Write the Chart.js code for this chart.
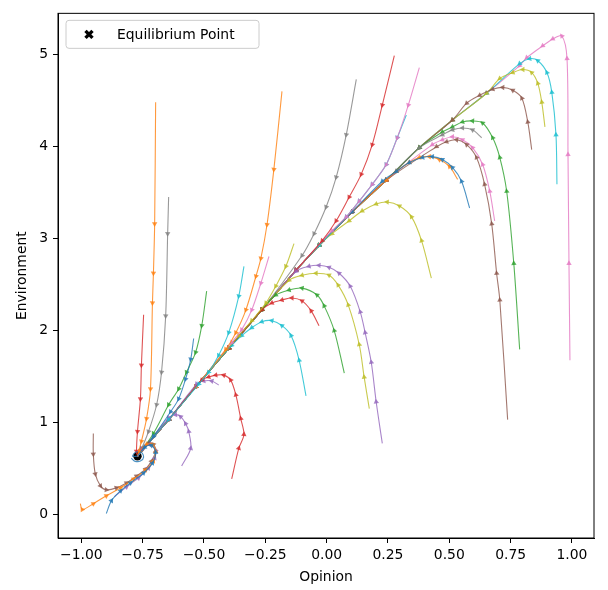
<!DOCTYPE html>
<html>
<head>
<meta charset="utf-8">
<script src="https://cdn.jsdelivr.net/npm/chart.js@4.4.1/dist/chart.umd.min.js"></script>
<style>
  body { margin: 0; background: #fff; }
</style>
</head>
<body>
<canvas id="phase" width="608" height="590"></canvas>
<script>
// tick positions
const xTicks = [-1, -0.75, -0.5, -0.25, 0, 0.25, 0.5, 0.75, 1];
const yTicks = [0, 1, 2, 3, 4, 5];

const equilibrium = [-0.771, 0.634];

// shared slow manifold that every trajectory rides down to the equilibrium
const spine = [[0.787,4.882],[0.652,4.581],[0.513,4.290],[0.378,3.989],[0.243,3.634],[0.104,3.290],
  [-0.031,2.925],[-0.125,2.656],[-0.264,2.226],[-0.399,1.806],[-0.534,1.387],[-0.644,1.032],[-0.771,0.634]];

// trajectory heads (opinion, environment) before they reach the manifold
const pinkFar = [[0.992,1.677],[0.988,2.731],[0.984,3.914],[0.980,4.957],[0.959,5.204],[0.922,5.172],[0.881,5.097],[0.816,4.968]];
const cyanFar = [[0.939,3.591],[0.935,4.129],[0.918,4.591],[0.898,4.806],[0.861,4.935],[0.828,4.957],[0.787,4.903]];
const oliveFar = [[0.890,4.215],[0.877,4.484],[0.861,4.688],[0.836,4.806],[0.800,4.839],[0.759,4.806],[0.706,4.742]];
const brownFar = [[0.836,3.968],[0.820,4.269],[0.796,4.527],[0.759,4.613],[0.718,4.645],[0.677,4.624],[0.624,4.559],[0.571,4.473]];
const greenFar = [[0.787,1.796],[0.763,2.731],[0.734,3.516],[0.706,3.882],[0.677,4.097],[0.636,4.258],[0.595,4.280],[0.554,4.269],[0.513,4.215],[0.472,4.161]];
const grayShort = [[0.632,4.097],[0.595,4.183],[0.554,4.204],[0.513,4.183],[0.472,4.129]];
const pinkMid = [[0.685,3.194],[0.665,3.516],[0.636,3.806],[0.595,3.989],[0.554,4.075],[0.513,4.108],[0.472,4.075],[0.431,4.022]];
const brownMid = [[0.738,1.032],[0.706,2.333],[0.693,2.624],[0.673,3.161],[0.644,3.591],[0.611,3.882],[0.571,4.022],[0.530,4.075],[0.489,4.054],[0.448,4.000]];
const blueArc = [[0.583,3.333],[0.550,3.624],[0.513,3.774],[0.472,3.860],[0.431,3.892],[0.391,3.882],[0.337,3.828],[0.284,3.731],[0.227,3.624]];
const orangeArc = [[0.534,3.645],[0.501,3.785],[0.460,3.860],[0.419,3.892],[0.378,3.882],[0.337,3.828],[0.284,3.731]];
const oliveMid = [[0.427,2.570],[0.387,2.978],[0.346,3.237],[0.297,3.355],[0.247,3.398],[0.202,3.376],[0.145,3.301],[0.092,3.194],[0.022,3.054]];
const purpleMid = [[0.227,0.774],[0.202,1.226],[0.182,1.656],[0.157,1.978],[0.137,2.204],[0.096,2.484],[0.051,2.624],[0.010,2.688],[-0.031,2.710],[-0.072,2.699],[-0.125,2.645]];
const oliveLow = [[0.174,1.151],[0.153,1.495],[0.133,1.849],[0.088,2.280],[0.047,2.495],[0.010,2.602],[-0.043,2.624],[-0.100,2.602],[-0.153,2.548]];
const greenMid = [[0.072,1.538],[0.031,2.000],[-0.010,2.269],[-0.039,2.387],[-0.100,2.462],[-0.153,2.441],[-0.207,2.387]];
const redMid = [[-0.031,2.054],[-0.063,2.215],[-0.100,2.323],[-0.141,2.355],[-0.182,2.333],[-0.223,2.301]];
const cyanMid = [[-0.084,1.290],[-0.112,1.677],[-0.145,1.946],[-0.182,2.054],[-0.223,2.108],[-0.264,2.097],[-0.305,2.032],[-0.346,1.946],[-0.387,1.839]];
const redLow = [[-0.387,0.387],[-0.358,0.720],[-0.337,0.871],[-0.350,1.043],[-0.370,1.301],[-0.391,1.462],[-0.419,1.516],[-0.452,1.516],[-0.481,1.495],[-0.509,1.462]];
const purpleSmall = [[-0.440,1.409],[-0.468,1.452],[-0.501,1.452],[-0.530,1.419]];
const purpleLow = [[-0.591,0.527],[-0.554,0.720],[-0.562,0.903],[-0.575,0.989],[-0.595,1.065],[-0.616,1.086],[-0.644,1.054]];
const orangeTall = [[-0.697,4.484],[-0.701,3.161],[-0.706,2.624],[-0.710,2.301],[-0.718,1.366],[-0.734,1.043],[-0.755,0.796]];
const grayTall = [[-0.644,3.452],[-0.648,3.054],[-0.656,2.161],[-0.673,1.548],[-0.693,1.194],[-0.726,0.903],[-0.759,0.688]];
const redTall = [[-0.746,2.172],[-0.755,1.624],[-0.759,1.258],[-0.771,0.903],[-0.775,0.688]];
const orangeRight = [[-0.182,4.602],[-0.215,3.753],[-0.243,3.151],[-0.268,2.785],[-0.288,2.591],[-0.329,2.226],[-0.370,1.978],[-0.411,1.796]];
const grayTop = [[0.121,4.731],[0.080,4.129],[0.039,3.667],[-0.002,3.344],[-0.051,3.054],[-0.100,2.817]];
const redTop = [[0.276,4.989],[0.227,4.452],[0.186,4.022],[0.141,3.699],[0.092,3.452],[0.039,3.194],[-0.018,2.978]];
const pinkTop = [[0.378,4.860],[0.333,4.452],[0.288,4.097],[0.243,3.806],[0.186,3.591],[0.133,3.409],[0.080,3.237],[0.022,3.086]];
const cyanTop = [[0.325,4.344],[0.288,4.097],[0.243,3.806],[0.186,3.591],[0.133,3.409],[0.080,3.237]];
const oliveLeft = [[-0.133,2.946],[-0.166,2.699],[-0.207,2.484],[-0.247,2.301],[-0.305,2.108],[-0.358,1.946]];
const pinkLeft = [[-0.235,2.806],[-0.268,2.516],[-0.305,2.226],[-0.346,2.011],[-0.387,1.871]];
const cyanLeft = [[-0.337,2.699],[-0.358,2.376],[-0.399,1.978],[-0.440,1.731],[-0.481,1.548],[-0.521,1.419]];
const greenLeft = [[-0.489,2.430],[-0.509,2.054],[-0.534,1.763],[-0.571,1.548],[-0.603,1.366],[-0.644,1.194],[-0.706,0.882]];
const blueLeft = [[-0.542,1.914],[-0.554,1.688],[-0.575,1.473],[-0.603,1.258],[-0.636,1.118],[-0.706,0.849]];
const brownLow = [[-0.951,0.882],[-0.951,0.656],[-0.943,0.441],[-0.922,0.312],[-0.898,0.269],[-0.857,0.290],[-0.816,0.344],[-0.775,0.419],[-0.738,0.495],[-0.714,0.581],[-0.697,0.688],[-0.706,0.763],[-0.726,0.774],[-0.755,0.720]];
const orangeLow = [[-1.004,0.118],[-0.996,0.054],[-0.951,0.118],[-0.898,0.204],[-0.840,0.290],[-0.787,0.387],[-0.738,0.484],[-0.706,0.581],[-0.697,0.688],[-0.710,0.763],[-0.734,0.763],[-0.763,0.688]];
const blueLow = [[-0.898,0.011],[-0.877,0.151],[-0.840,0.258],[-0.800,0.344],[-0.746,0.452],[-0.710,0.559],[-0.697,0.677],[-0.714,0.753],[-0.742,0.731]];
const purpleLow2 = [[-0.865,0.194],[-0.816,0.301],[-0.767,0.398],[-0.726,0.505],[-0.701,0.613],[-0.697,0.699],[-0.722,0.763],[-0.755,0.710]];
const blueLoop = [[-0.796,0.613],[-0.783,0.581],[-0.759,0.581],[-0.746,0.624],[-0.755,0.677],[-0.779,0.677],[-0.791,0.634]];

const C = {
  blue: '#1f77b4', orange: '#ff7f0e', green: '#2ca02c', red: '#d62728', purple: '#9467bd',
  brown: '#8c564b', pink: '#e377c2', gray: '#7f7f7f', olive: '#bcbd22', cyan: '#17becf'
};

// head, index on the spine where it joins, colour, arrow size
const trajectories = [
  [blueLow, 12, C.blue], [orangeLow, 12, C.orange], [purpleLow2, 12, C.purple], [brownLow, 12, C.brown],
  [blueLoop, 12, C.blue, 0],
  [redTall, 12, C.red], [orangeTall, 12, C.orange], [grayTall, 12, C.gray],
  [blueLeft, 12, C.blue], [greenLeft, 12, C.green], [cyanLeft, 11, C.cyan],
  [purpleLow, 12, C.purple], [redLow, 11, C.red], [purpleSmall, 11, C.purple],
  [orangeRight, 10, C.orange], [pinkLeft, 10, C.pink], [oliveLeft, 10, C.olive],
  [cyanMid, 10, C.cyan], [redMid, 8, C.red], [greenMid, 8, C.green], [oliveLow, 8, C.olive], [purpleMid, 8, C.purple],
  [grayTop, 8, C.gray], [redTop, 7, C.red], [pinkTop, 7, C.pink], [cyanTop, 6, C.cyan],
  [oliveMid, 6, C.olive], [blueArc, 5, C.blue], [orangeArc, 4, C.orange],
  [brownMid, 4, C.brown], [pinkMid, 4, C.pink], [grayShort, 3, C.gray], [greenFar, 3, C.green],
  [brownFar, 2, C.brown], [oliveFar, 1, C.olive], [cyanFar, 1, C.cyan], [pinkFar, 0, C.pink]
];

function fade(hex, a) {
  const n = parseInt(hex.slice(1), 16);
  return `rgba(${n >> 16},${(n >> 8) & 255},${n & 255},${a})`;
}

// arrow heads point along the direction of travel
function arrowAngle(ctx) {
  const pts = ctx.dataset.data;
  const i = ctx.dataIndex;
  const sx = ctx.chart.scales.x, sy = ctx.chart.scales.y;
  const a = pts[Math.max(i - 1, 0)], b = pts[Math.min(i + 1, pts.length - 1)];
  const dx = sx.getPixelForValue(b.x) - sx.getPixelForValue(a.x);
  const dy = sy.getPixelForValue(b.y) - sy.getPixelForValue(a.y);
  return Math.atan2(dx, -dy) * 180 / Math.PI;
}

const datasets = trajectories.map(([head, join, color, arrow = 3.1]) => ({
  data: head.concat(spine.slice(join)).map(([x, y]) => ({ x, y })),
  showLine: true,
  borderColor: fade(color, 0.8),
  backgroundColor: fade(color, 0.8),
  borderWidth: 1.1,
  tension: 0.3,
  pointStyle: 'triangle',
  pointBorderWidth: 0,
  pointRadius: (ctx) => (ctx.dataIndex === 0 || ctx.dataIndex === ctx.dataset.data.length - 1) ? 0 : arrow,
  pointRotation: arrowAngle
}));

datasets.push({
  data: [{ x: equilibrium[0], y: equilibrium[1] }],
  showLine: false,
  pointStyle: 'circle',
  pointRadius: 4.2,
  backgroundColor: '#000',
  borderColor: '#000',
  pointBorderWidth: 0
});

const frameAndLegend = {
  id: 'frameAndLegend',
  afterDraw(chart) {
    const { ctx, chartArea: a } = chart;
    ctx.save();
    ctx.strokeStyle = '#000';
    ctx.lineWidth = 1;
    ctx.strokeRect(a.left, a.top, a.right - a.left, a.bottom - a.top);

    const bx = a.left + 8, by = a.top + 7, bw = 193, bh = 28;
    ctx.beginPath();
    ctx.roundRect(bx, by, bw, bh, 3);
    ctx.fillStyle = 'rgba(255,255,255,0.8)';
    ctx.fill();
    ctx.strokeStyle = '#cccccc';
    ctx.stroke();

    const mx = bx + 23, my = by + 14, r = 3.5;
    ctx.strokeStyle = '#000';
    ctx.lineWidth = 3.4;
    ctx.beginPath();
    ctx.moveTo(mx - r, my - r); ctx.lineTo(mx + r, my + r);
    ctx.moveTo(mx + r, my - r); ctx.lineTo(mx - r, my + r);
    ctx.stroke();

    ctx.fillStyle = '#000';
    ctx.font = '13.9px "DejaVu Sans"';
    ctx.textBaseline = 'middle';
    ctx.textAlign = 'left';
    ctx.fillText('Equilibrium Point', bx + 51, my + 1);
    ctx.restore();
  }
};

Chart.defaults.font.family = '"DejaVu Sans"';
Chart.defaults.font.size = 13.9;
Chart.defaults.color = '#000';

new Chart(document.getElementById('phase').getContext('2d'), {
  type: 'scatter',
  data: { datasets },
  plugins: [frameAndLegend],
  options: {
    responsive: false,
    animation: false,
    events: [],
    layout: { padding: { left: 0, top: 7, right: 14, bottom: 0 } },
    plugins: { legend: { display: false }, tooltip: { enabled: false } },
    scales: {
      x: {
        type: 'linear',
        min: -1.095,
        max: 1.09,
        afterBuildTicks: (s) => { s.ticks = xTicks.map((v) => ({ value: v })); },
        afterFit: (s) => { s.height = 52; },
        ticks: {
          padding: 4,
          maxRotation: 0,
          autoSkip: false,
          callback: (v) => v.toFixed(2).replace('-', '\u2212')
        },
        grid: { drawOnChartArea: false, drawTicks: true, tickLength: 5, color: '#000' },
        border: { display: true, color: '#000', width: 1 },
        title: { display: true, text: 'Opinion', padding: { top: 4, bottom: 4 } }
      },
      y: {
        type: 'linear',
        min: -0.255,
        max: 5.45,
        afterBuildTicks: (s) => { s.ticks = yTicks.map((v) => ({ value: v })); },
        afterFit: (s) => { s.width = 58; },
        ticks: { padding: 5, callback: (v) => String(v) },
        grid: { drawOnChartArea: false, drawTicks: true, tickLength: 5, color: '#000' },
        border: { display: true, color: '#000', width: 1 },
        title: { display: true, text: 'Environment', padding: { top: 14, bottom: 4 } }
      }
    }
  }
});
</script>
</body>
</html>
